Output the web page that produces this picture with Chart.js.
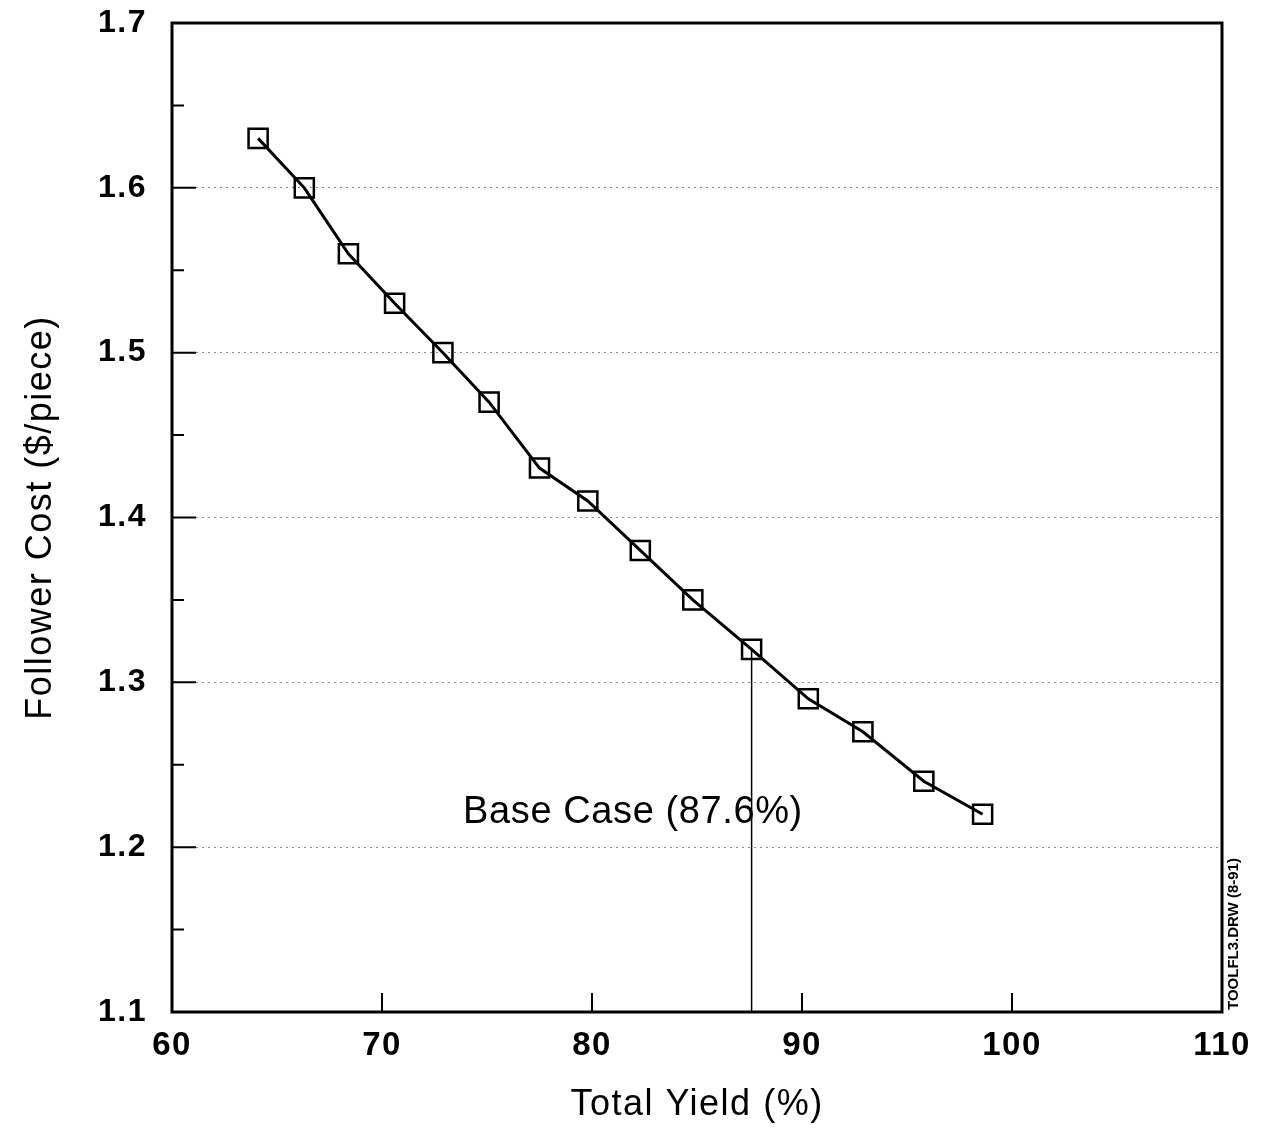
<!DOCTYPE html>
<html>
<head>
<meta charset="utf-8">
<script src="https://cdn.jsdelivr.net/npm/chart.js@4.4.0/dist/chart.umd.min.js"></script>
<style>
  html, body { margin: 0; padding: 0; background: #fff; }
  canvas { display: block; }
</style>
</head>
<body>
<canvas id="yieldChart" width="1265" height="1137"></canvas>
<script>
// yield (%) vs follower cost ($/piece)
const totalYield = [64.1, 66.3, 68.4, 70.6, 72.9, 75.1, 77.5, 79.8, 82.3, 84.8, 87.6, 90.3, 92.9, 95.8, 98.6];
const followerCost = [1.63, 1.60, 1.56, 1.53, 1.50, 1.47, 1.43, 1.41, 1.38, 1.35, 1.32, 1.29, 1.27, 1.24, 1.22];

const baseCaseYield = 87.6;
const baseCaseCost = 1.32;
const baseCaseText = 'Base Case (87.6%)';

const xTickValues = [60, 70, 80, 90, 100, 110];
const yTickValues = [1.1, 1.2, 1.3, 1.4, 1.5, 1.6, 1.7];
const yMinorTicks = [1.15, 1.25, 1.35, 1.45, 1.55, 1.65];

const FONT = '"Liberation Sans", Arial, Helvetica, sans-serif';

const points = totalYield.map((v, i) => ({ x: v, y: followerCost[i] }));
const baseLine = [{ x: baseCaseYield, y: baseCaseCost }, { x: baseCaseYield, y: yTickValues[0] }];

// frame, inside tick marks and the two free text labels
const extras = {
    id: 'extras',
    beforeDraw(chart) {
        chart.ctx.letterSpacing = '1.5px';
    },
    afterDatasetsDraw(chart) {
        const { ctx, chartArea: a, scales: { x, y } } = chart;
        ctx.save();
        ctx.strokeStyle = '#000';
        ctx.lineWidth = 2;
        ctx.beginPath();
        yTickValues.slice(1, -1).forEach(v => {
            const py = y.getPixelForValue(v);
            ctx.moveTo(a.left, py);
            ctx.lineTo(a.left + 24, py);
        });
        yMinorTicks.forEach(v => {
            const py = y.getPixelForValue(v);
            ctx.moveTo(a.left, py);
            ctx.lineTo(a.left + 12, py);
        });
        xTickValues.slice(1, -1).forEach(v => {
            const px = x.getPixelForValue(v);
            ctx.moveTo(px, a.bottom);
            ctx.lineTo(px, a.bottom - 19);
        });
        ctx.stroke();

        ctx.lineWidth = 3;
        ctx.strokeRect(a.left, a.top, a.width, a.height);

        // base case label
        ctx.fillStyle = '#000';
        ctx.font = '38px ' + FONT;
        ctx.letterSpacing = '0.6px';
        ctx.textAlign = 'center';
        ctx.textBaseline = 'middle';
        ctx.fillText(baseCaseText, x.getPixelForValue(81.95), y.getPixelForValue(1.221));

        // drawing file tag, rotated up the right edge
        ctx.translate(a.right + 16, a.bottom - 2);
        ctx.rotate(-Math.PI / 2);
        ctx.font = 'bold 15px ' + FONT;
        ctx.letterSpacing = '0px';
        ctx.textAlign = 'left';
        ctx.textBaseline = 'alphabetic';
        ctx.fillText('TOOLFL3.DRW (8-91)', 0, 0);
        ctx.restore();
    }
};

const config = {
    type: 'line',
    data: {
        datasets: [
            {
                label: 'Follower Cost',
                data: points,
                borderColor: '#000',
                borderWidth: 3,
                pointStyle: 'rect',
                pointRadius: 13.5,
                pointBorderWidth: 2.5,
                pointBorderColor: '#000',
                pointBackgroundColor: 'rgba(0,0,0,0)',
                tension: 0
            },
            {
                label: 'Base Case',
                data: baseLine,
                borderColor: '#000',
                borderWidth: 1.5,
                pointRadius: 0
            }
        ]
    },
    options: {
        responsive: false,
        animation: false,
        layout: {
            padding: { top: 23, right: 43, left: 0, bottom: 0 }
        },
        plugins: {
            legend: { display: false },
            tooltip: { enabled: false }
        },
        scales: {
            x: {
                type: 'linear',
                min: 60,
                max: 110,
                afterBuildTicks: s => { s.ticks = xTickValues.map(v => ({ value: v })); },
                afterFit: s => { s.height = 125; },
                border: { display: false },
                // invisible tick marks used only as label offset
                grid: { drawOnChartArea: false, drawTicks: true, tickLength: 14, tickColor: 'rgba(0,0,0,0)' },
                ticks: {
                    color: '#000',
                    padding: 0,
                    font: { family: FONT, size: 33, weight: 'bold' },
                    callback: v => String(v)
                },
                title: {
                    display: true,
                    text: 'Total Yield (%)',
                    color: '#000',
                    padding: { bottom: 10 },
                    font: { family: FONT, size: 36 }
                }
            },
            y: {
                type: 'linear',
                min: 1.1,
                max: 1.7,
                afterBuildTicks: s => { s.ticks = yTickValues.map(v => ({ value: v })); },
                afterFit: s => { s.width = 172; },
                // dotted grid lines
                border: { display: false, dash: [2, 4] },
                grid: {
                    drawTicks: true,
                    tickLength: 25,
                    tickColor: 'rgba(0,0,0,0)',
                    lineWidth: 1,
                    color: c => (c.tick && c.tick.value > 1.15 && c.tick.value < 1.65) ? '#8a8a8a' : 'rgba(0,0,0,0)'
                },
                ticks: {
                    color: '#000',
                    padding: 0,
                    font: { family: FONT, size: 32, weight: 'bold' },
                    callback: v => v.toFixed(1)
                },
                title: {
                    display: true,
                    text: 'Follower Cost ($/piece)',
                    color: '#000',
                    padding: { top: 19 },
                    font: { family: FONT, size: 36 }
                }
            }
        }
    },
    plugins: [extras]
};

const chart = new Chart(document.getElementById('yieldChart').getContext('2d'), config);
</script>
</body>
</html>
